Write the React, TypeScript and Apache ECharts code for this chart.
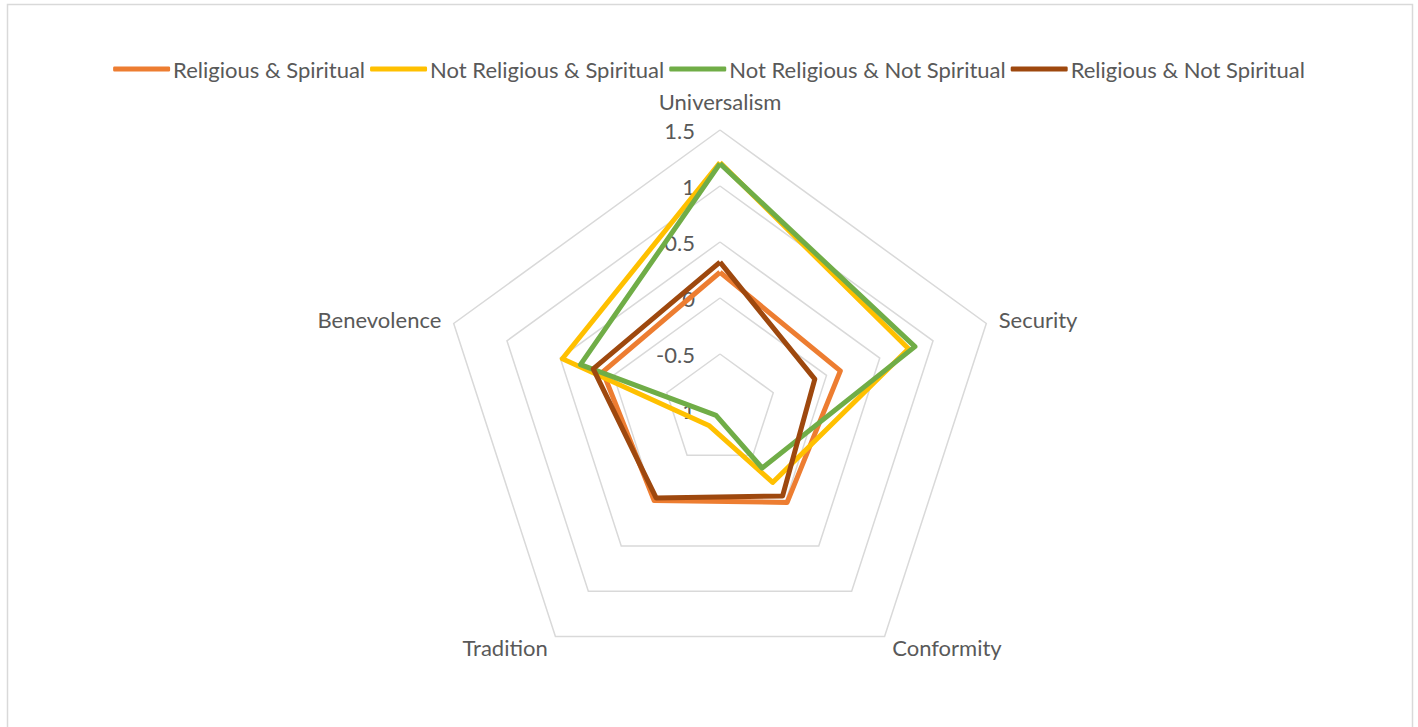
import React, { useEffect, useRef } from "react";
import * as echarts from "echarts";

const indicators = ["Universalism", "Benevolence", "Tradition", "Conformity", "Security"];
const seriesNames = [
  "Religious & Spiritual",
  "Not Religious & Spiritual",
  "Not Religious & Not Spiritual",
  "Religious & Not Spiritual",
];
// values in indicator order: Universalism, Benevolence, Tradition, Conformity, Security
const religiousSpiritual = [0.23, 0.1, 0.0, 0.02, 0.13];
const notReligiousSpiritual = [1.21, 0.48, -0.83, -0.2, 0.77];
const notReligiousNotSpiritual = [1.2, 0.31, -0.94, -0.36, 0.83];
const religiousNotSpiritual = [0.32, 0.19, -0.03, -0.05, -0.11];
const colors = ["#ED7D31", "#FFC000", "#70AD47", "#9E480E"];
const axisMin = -1;
const axisMax = 1.5;
const axisStep = 0.5;

const FONT = "Lato";
const TEXT = "#595959";
const FS = 22;

export default function App() {
  const ref = useRef<HTMLDivElement>(null);
  useEffect(() => {
    document.body.style.margin = "0";
    const chart = echarts.init(ref.current!, null, { renderer: "svg" });
    const cx = 720;
    const cy = 410;
    const R = 280;
    const allData = [religiousSpiritual, notReligiousSpiritual, notReligiousNotSpiritual, religiousNotSpiritual];
    chart.setOption({
      animation: false,
      textStyle: { fontFamily: FONT },
      graphic: [
        {
          type: "rect",
          shape: { x: 7.5, y: 4.5, width: 1405, height: 760 },
          style: { fill: "none", stroke: "#d9d9d9", lineWidth: 1.5 },
          silent: true,
        },
      ],
      legend: {
        top: 53,
        left: "center",
        data: seriesNames,
        icon: "roundRect",
        itemWidth: 57,
        itemHeight: 5,
        itemGap: 5,
        textStyle: { color: TEXT, fontSize: FS, fontFamily: FONT, padding: [0, 0, 0, -2] },
      },
      radar: {
        center: [cx, cy],
        radius: R,
        startAngle: 90,
        splitNumber: 5,
        shape: "polygon",
        indicator: indicators.map((n) => ({ name: n, min: axisMin, max: axisMax })),
        axisName: { color: TEXT, fontSize: FS, fontFamily: FONT, padding: [0, 0, 5, 0] },
        nameGap: 13,
        axisLine: { show: false },
        axisTick: { show: false },
        axisLabel: { show: false },
        splitLine: { lineStyle: { color: "#d9d9d9", width: 1.5 } },
        splitArea: { show: false },
      },
      grid: { left: cx, top: cy - R, height: R, width: 1, containLabel: false },
      xAxis: { type: "value", show: false },
      yAxis: {
        type: "value",
        min: axisMin,
        max: axisMax,
        interval: axisStep,
        axisLine: { show: false },
        axisTick: { show: false },
        splitLine: { show: false },
        axisLabel: { color: TEXT, fontSize: FS, fontFamily: FONT, margin: 25 },
      },
      series: [
        {
          type: "radar",
          symbol: "none",
          data: allData.map((d, i) => ({
            name: seriesNames[i],
            value: d,
            lineStyle: { color: colors[i], width: 5, join: "round" },
            itemStyle: { color: colors[i] },
          })),
        },
      ],
    });
    return () => chart.dispose();
  }, []);
  return <div ref={ref} style={{ width: 1418, height: 727 }} />;
}
